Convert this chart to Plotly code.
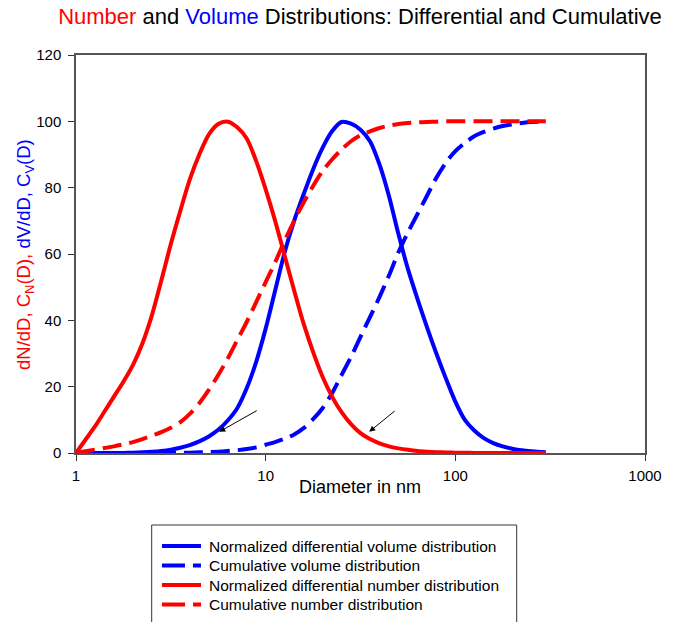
import plotly.graph_objects as go

# ---------------- data ----------------
# common diameter grid (nm), 0.05-decade steps from 1 to 300
D = [1.0, 1.122, 1.259, 1.413, 1.585, 1.778, 1.995, 2.239, 2.512, 2.818,
     3.162, 3.548, 3.981, 4.467, 5.012, 5.623, 6.31, 7.079, 7.943, 8.913,
     10.0, 11.22, 12.59, 14.13, 15.85, 17.78, 19.95, 22.39, 25.12, 28.18,
     31.62, 35.48, 39.81, 44.67, 50.12, 56.23, 63.1, 70.79, 79.43, 89.13,
     100.0, 112.2, 125.9, 141.3, 158.5, 177.8, 199.5, 223.9, 251.2, 281.8, 300.0]

# Normalized differential number distribution (red solid)
dN_dD = [0.0, 4.0, 8.0, 12.5, 17.0, 21.5, 26.5, 33.0, 41.5, 52.0,
         63.0, 73.0, 82.5, 90.0, 96.0, 99.2, 99.9, 98.2, 94.8, 88.0,
         79.5, 70.0, 59.5, 49.0, 39.0, 30.5, 23.0, 17.0, 12.3, 8.7,
         6.0, 4.2, 2.9, 2.0, 1.4, 0.95, 0.6, 0.4, 0.25, 0.15,
         0.1, 0.05, 0.03, 0.02, 0.0, 0.0, 0.0, 0.0, 0.0, 0.0, 0.0]

# Normalized differential volume distribution (blue solid)
dV_dD = [0.0, 0.0, 0.0, 0.0, 0.0, 0.03, 0.1, 0.2, 0.35, 0.6,
         1.0, 1.6, 2.4, 3.5, 5.0, 7.0, 9.8, 13.5, 19.5, 27.5,
         37.5, 49.0, 60.5, 70.0, 78.0, 85.5, 92.0, 97.0, 99.8, 99.3,
         97.5, 94.0, 87.0, 77.5, 66.0, 55.5, 46.5, 38.0, 30.0, 22.5,
         15.5, 10.0, 6.8, 4.5, 3.0, 2.0, 1.3, 0.8, 0.5, 0.3, 0.2]

# Cumulative number distribution (red dashed)
C_N = [0.0, 0.5, 1.0, 1.5, 2.0, 2.6, 3.3, 4.2, 5.2, 6.3,
       7.6, 9.3, 11.8, 15.0, 19.0, 23.5, 28.5, 34.0, 39.5, 45.5,
       51.5, 57.5, 64.0, 70.0, 75.5, 80.5, 85.0, 88.5, 91.5, 94.0,
       95.8, 97.0, 98.0, 98.7, 99.2, 99.5, 99.7, 99.8, 99.9, 100.0,
       100.0, 100.0, 100.0, 100.0, 100.0, 100.0, 100.0, 100.0, 100.0, 100.0, 100.0]

# Cumulative volume distribution (blue dashed)
C_V = [0.0, 0.0, 0.0, 0.0, 0.0, 0.0, 0.0, 0.0, 0.0, 0.0,
       0.0, 0.05, 0.1, 0.2, 0.3, 0.4, 0.6, 0.85, 1.2, 1.7,
       2.5, 3.3, 4.3, 5.6, 7.5, 10.2, 13.5, 18.0, 23.5, 29.0,
       35.0, 41.0, 47.0, 53.5, 60.5, 66.5, 72.0, 77.5, 83.0, 87.5,
       91.0, 93.5, 95.5, 96.8, 97.8, 98.6, 99.1, 99.5, 99.8, 99.9, 100.0]

series_names = ["Normalized differential volume distribution",
                "Cumulative volume distribution",
                "Normalized differential number distribution",
                "Cumulative number distribution"]

x_tickvals = [1, 10, 100, 1000]
x_ticktext = ["1", "10", "100", "1000"]
y_tickvals = [0, 20, 40, 60, 80, 100, 120]

# arrow annotations: head position (log10 D, y) and tail offset in px
arrow_heads = [(0.7554, 6.4), (1.546, 6.4)]
arrow_offsets = [(39, -22), (27, -22)]

RED = "#FF0000"
BLUE = "#0000FF"
FONT = "Liberation Sans, Arial, sans-serif"
DASH = "19px,8px"

# plot-area geometry in px (used to place annotations / legend)
L, R, T, B = 76, 645, 55, 453
W, H = R - L, B - T


def px_x(px):
    return (px - L) / W


def px_y(py):
    return (B - py) / H


styles = [(BLUE, "solid"), (BLUE, DASH), (RED, "solid"), (RED, DASH)]
ys = [dV_dD, C_V, dN_dD, C_N]

fig = go.Figure()
for name, (col, dash), y in zip(series_names, styles, ys):
    fig.add_trace(go.Scatter(x=D, y=y, mode="lines", name=name, showlegend=False,
                             line=dict(color=col, width=4, dash=dash, shape="spline", smoothing=0.8)))

for (hx, hy), (ax, ay) in zip(arrow_heads, arrow_offsets):
    fig.add_annotation(x=hx, y=hy, xref="x", yref="y", ax=ax, ay=ay, axref="pixel", ayref="pixel",
                       showarrow=True, arrowhead=2, arrowsize=1.2, arrowwidth=1, arrowcolor="#000000", text="")

# y-axis title (mixed colours)
fig.add_annotation(xref="paper", yref="paper", x=px_x(25), y=px_y(255),
                   text="<span style='color:#FF0000'>dN/dD, C<sub>N</sub>(D), </span>"
                        "<span style='color:#0000FF'>dV/dD, C<sub>V</sub>(D)</span>",
                   textangle=-90, showarrow=False, font=dict(family=FONT, size=18.5),
                   xanchor="center", yanchor="middle")
# x-axis title
fig.add_annotation(xref="paper", yref="paper", x=px_x(360), y=px_y(487),
                   text="Diameter in nm", showarrow=False, font=dict(family=FONT, size=18, color="black"),
                   xanchor="center", yanchor="middle")

# legend (frame, line samples, labels)
fig.add_shape(type="rect", xref="paper", yref="paper",
              x0=px_x(151.7), x1=px_x(516.7), y0=px_y(525), y1=px_y(660),
              line=dict(color="#333333", width=1), fillcolor="rgba(0,0,0,0)", layer="above")
leg_y = [546, 565.5, 585, 604.5]
for name, (col, dash), ly in zip(series_names, styles, leg_y):
    fig.add_shape(type="line", xref="paper", yref="paper",
                  x0=px_x(162), x1=px_x(201), y0=px_y(ly), y1=px_y(ly),
                  line=dict(color=col, width=4, dash="solid" if dash == "solid" else "23px,8px"))
    fig.add_annotation(xref="paper", yref="paper", x=px_x(207), y=px_y(ly), text=name,
                       showarrow=False, xanchor="left", yanchor="middle",
                       font=dict(family=FONT, size=15.5, color="black"))

fig.update_layout(
    width=678, height=622,
    margin=dict(l=L, r=678 - R, t=T, b=622 - B, autoexpand=False),
    paper_bgcolor="white", plot_bgcolor="white",
    font=dict(family=FONT, size=15, color="black"),
    title=dict(text="<span style='color:#FF0000'>Number</span> and <span style='color:#0000FF'>Volume</span> "
                    "Distributions: Differential and Cumulative",
               x=360 / 678, xref="container", xanchor="center",
               y=1 - 16 / 622, yref="container", yanchor="middle",
               font=dict(family=FONT, size=22, color="black")),
    showlegend=False,
)

fig.update_xaxes(type="log", range=[0, 3], tickmode="array", tickvals=x_tickvals, ticktext=x_ticktext,
                 showgrid=False, zeroline=False, showline=True, linecolor="#555555", linewidth=1.5,
                 mirror=True, ticks="outside", ticklen=6, tickcolor="#333333", tickwidth=1,
                 ticklabelstandoff=2, tickfont=dict(family=FONT, size=15, color="black"))
fig.update_yaxes(range=[0, 120], tickmode="array", tickvals=y_tickvals,
                 showgrid=False, zeroline=False, showline=True, linecolor="#555555", linewidth=1.5,
                 mirror=True, ticks="outside", ticklen=6, tickcolor="#333333", tickwidth=1,
                 ticklabelstandoff=4, tickfont=dict(family=FONT, size=15, color="black"))

fig.write_html("out.html")
